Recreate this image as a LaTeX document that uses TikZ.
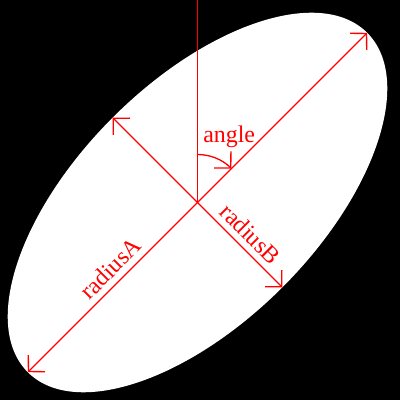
\documentclass[tikz,border=0pt]{standalone}
\usepackage{fontspec}
\setmainfont{Liberation Serif}
\usetikzlibrary{arrows.meta,calc}
\begin{document}
\begin{tikzpicture}[x=0.25mm,y=0.25mm,
  redline/.style={draw=red, line width=0.33mm, -{Straight Barb[length=2.9mm,width=5.9mm,line width=0.33mm]}},
  lbl/.style={text=red, font=\fontsize{17}{20}\selectfont, inner sep=0}]
\fill[black] (0,0) rectangle (400,400);
\useasboundingbox (0,0) rectangle (400,400);
\coordinate (c) at (197.5,197.5);
\fill[white, rotate around={45:(c)}] (c) ellipse [x radius=240, y radius=120];
\coordinate (A1) at ($(c)+(45:240)$);
\coordinate (A2) at ($(c)+(225:240)$);
\coordinate (B1) at ($(c)+(135:120)$);
\coordinate (B2) at ($(c)+(-45:120)$);
\coordinate (top) at (197.5,400);
\draw[redline] (c) -- (A1);
\draw[redline] (c) -- (A2);
\draw[redline] (c) -- (B1);
\draw[redline] (c) -- (B2);
\draw[draw=red, line width=0.33mm] (c) -- (top);
\draw[redline] ($(c)+(90:48)$) arc[start angle=90, end angle=45, radius=48];
\node[lbl, anchor=base west] (ang) at (203,257) {angle};
\node[lbl, anchor=base, rotate=45] (ra) at ($(c)!0.45!(A2)+(135:7)$) {radiusA};
\node[lbl, anchor=base, rotate=-45] (rb) at ($(c)!0.5!(B2)+(45:7)$) {radiusB};
\end{tikzpicture}
\end{document}
